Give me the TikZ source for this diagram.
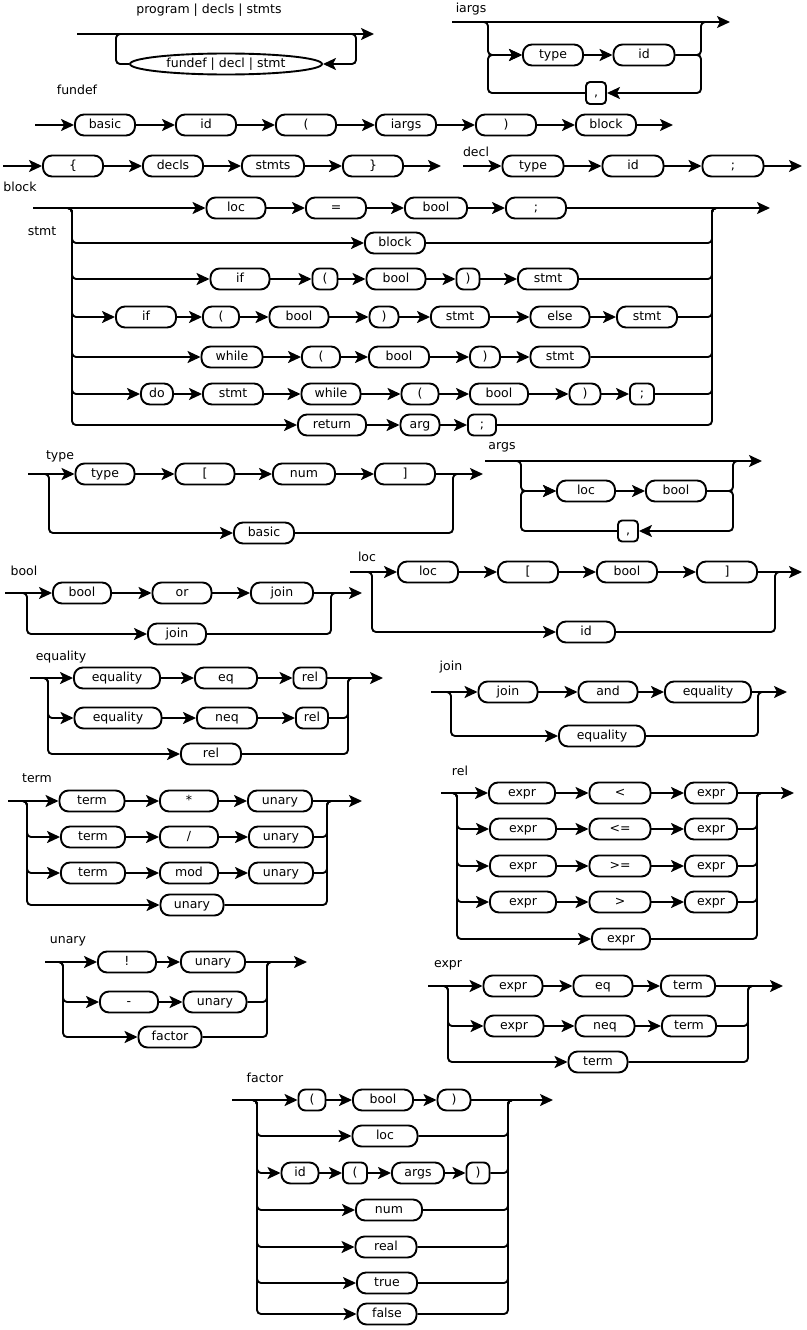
\documentclass[tikz,border=0pt]{standalone}
\usepackage{fontspec}
\setmainfont{DejaVu Sans}
\usetikzlibrary{arrows.meta,shapes.geometric}
\begin{document}
\begin{tikzpicture}[x=1pt,y=-1pt,line width=1.9pt,
  >={Stealth[length=13pt,width=12pt,inset=3pt]},
  every node/.style={font=\fontsize{12.5}{14}\selectfont},
  tm/.style={draw, rounded corners=9pt, minimum width=60pt, minimum height=21pt, inner sep=0pt, text height=9.5pt, text depth=2.5pt},
  rr/.style={rounded corners=4pt}]
\useasboundingbox (0,0) rectangle (806,1330);
% program
\node (pgT) at (209,10){program | decls | stmts};
\node[draw, ellipse, minimum width=192pt, minimum height=21pt, inner sep=0pt, text height=9.5pt, text depth=2.5pt] (pgE) at (226,64){fundef | decl | stmt};
\coordinate (pgA) at (77,34);
\coordinate (pgL) at (116,34);
\coordinate (pgL0) at (124,34);
\coordinate (pgR0) at (348,34);
\coordinate (pgR) at (356,34);
\coordinate (pgZ) at (374,34);
\draw[->](pgA) -- (pgZ);
\draw[rr,->](pgR0) -| (pgE -| pgR) -- (pgE);
\draw[rr](pgE) -- (pgE -| pgL) |- (pgL0);
% iargs
\node (iaT) at (471,9){iargs};
\node[tm] (iaTy) at (553,55){type};
\node[tm, minimum width=61pt] (iaId) at (644,55){id};
\node[tm, rounded corners=4pt, minimum width=20pt, minimum height=22pt] (iaCm) at (596,93){,};
\coordinate (iaA) at (452,22);
\coordinate (iaL) at (488,22);
\coordinate (iaR) at (701,22);
\coordinate (iaR0) at (709,22);
\coordinate (iaZ) at (730,22);
\draw[->](iaA) -- (iaZ);
\draw[rr,->](iaA) -| (iaTy -| iaL) -- (iaTy);
\draw[->](iaTy) -- (iaId);
\draw[rr](iaId) -| (iaR) -- (iaR0);
\draw[rr,->](iaId) -| (iaCm -| iaR) -- (iaCm);
\draw[rr,->](iaCm) -| (iaTy -| iaL) -- (iaTy);
% fundef
\node (fdT) at (77,90){fundef};
\node[tm] (fd1) at (105,125){basic};
\node[tm] (fd2) at (206,125){id};
\node[tm] (fd3) at (306,125){(};
\node[tm] (fd4) at (406,125){iargs};
\node[tm] (fd5) at (506,125){)};
\node[tm] (fd6) at (606,125){block};
\coordinate (fdA) at (35,125);
\coordinate (fdZ) at (673,125);
\draw[->](fdA) -- (fd1);
\draw[->](fd1) -- (fd2);
\draw[->](fd2) -- (fd3);
\draw[->](fd3) -- (fd4);
\draw[->](fd4) -- (fd5);
\draw[->](fd5) -- (fd6);
\draw[->](fd6) -- (fdZ);
% block
\node (bkT) at (20,187){block};
\node[tm] (bk1) at (73,166){\{};
\node[tm] (bk2) at (173,166){decls};
\node[tm, minimum width=62pt] (bk3) at (273,166){stmts};
\node[tm] (bk4) at (373,166){\}};
\coordinate (bkA) at (3,166);
\coordinate (bkZ) at (441,166);
\draw[->](bkA) -- (bk1);
\draw[->](bk1) -- (bk2);
\draw[->](bk2) -- (bk3);
\draw[->](bk3) -- (bk4);
\draw[->](bk4) -- (bkZ);
% decl
\node (dcT) at (476,152){decl};
\node[tm, minimum width=61pt] (dc1) at (533,166){type};
\node[tm, minimum width=61pt] (dc2) at (633,166){id};
\node[tm, minimum width=61pt] (dc3) at (733,166){;};
\coordinate (dcA) at (463,166);
\coordinate (dcZ) at (802,166);
\draw[->](dcA) -- (dc1);
\draw[->](dc1) -- (dc2);
\draw[->](dc2) -- (dc3);
\draw[->](dc3) -- (dcZ);
% stmt
\node (stT) at (42,231){stmt};
\coordinate (stA) at (33,208);
\coordinate (stL) at (72,208);
\coordinate (stR) at (712,208);
\coordinate (stR0) at (720,208);
\coordinate (stZ) at (770,208);
\node[tm, minimum width=59pt] (st1) at (236,208){loc};
\node[tm] (st2) at (336,208){=};
\node[tm, minimum width=62pt] (st3) at (436,208){bool};
\node[tm] (st4) at (536,208){;};
\node[tm] (st5) at (395,243){block};
\node[tm, minimum width=59pt] (st6) at (240,279){if};
\node[tm, rounded corners=7pt, minimum width=25pt] (st7) at (325,279){(};
\node[tm, minimum width=59pt] (st8) at (396,279){bool};
\node[tm, rounded corners=7pt, minimum width=23pt] (st9) at (468,279){)};
\node[tm] (st10) at (548,279){stmt};
\node[tm] (st11) at (146,317){if};
\node[tm, minimum width=36pt] (st12) at (221,317){(};
\node[tm, minimum width=59pt] (st13) at (299,317){bool};
\node[tm, minimum width=29pt] (st14) at (384,317){)};
\node[tm, minimum width=58pt] (st15) at (460,317){stmt};
\node[tm, minimum width=59pt] (st16) at (560,317){else};
\node[tm] (st17) at (647,317){stmt};
\node[tm, minimum width=61pt] (st18) at (232,357){while};
\node[tm, minimum width=38pt] (st19) at (321,357){(};
\node[tm] (st20) at (399,357){bool};
\node[tm, minimum width=30pt] (st21) at (485,357){)};
\node[tm, minimum width=59pt] (st22) at (560,357){stmt};
\node[tm, minimum width=32pt] (st23) at (157,394){do};
\node[tm] (st24) at (233,394){stmt};
\node[tm, minimum width=59pt] (st25) at (331,394){while};
\node[tm, minimum width=37pt] (st26) at (420,394){(};
\node[tm, minimum width=58pt] (st27) at (499,394){bool};
\node[tm, minimum width=31pt] (st28) at (585,394){)};
\node[tm, rounded corners=6pt, minimum width=24pt] (st29) at (642,394){;};
\node[tm, minimum width=68pt] (st30) at (332,425){return};
\node[tm, minimum width=39pt] (st31) at (420,425){arg};
\node[tm, rounded corners=6pt, minimum width=28pt] (st32) at (482,425){;};
\draw[->](stA) -- (st1);
\draw[->](st1) -- (st2);
\draw[->](st2) -- (st3);
\draw[->](st3) -- (st4);
\draw[->](st4) -- (stZ);
\draw[rr,->](stA) -| (st5 -| stL) -- (st5);
\draw[rr](st5) -| (stR) -- (stR0);
\draw[rr,->](stA) -| (st6 -| stL) -- (st6);
\draw[->](st6) -- (st7);
\draw[->](st7) -- (st8);
\draw[->](st8) -- (st9);
\draw[->](st9) -- (st10);
\draw[rr](st10) -| (stR) -- (stR0);
\draw[rr,->](stA) -| (st11 -| stL) -- (st11);
\draw[->](st11) -- (st12);
\draw[->](st12) -- (st13);
\draw[->](st13) -- (st14);
\draw[->](st14) -- (st15);
\draw[->](st15) -- (st16);
\draw[->](st16) -- (st17);
\draw[rr](st17) -| (stR) -- (stR0);
\draw[rr,->](stA) -| (st18 -| stL) -- (st18);
\draw[->](st18) -- (st19);
\draw[->](st19) -- (st20);
\draw[->](st20) -- (st21);
\draw[->](st21) -- (st22);
\draw[rr](st22) -| (stR) -- (stR0);
\draw[rr,->](stA) -| (st23 -| stL) -- (st23);
\draw[->](st23) -- (st24);
\draw[->](st24) -- (st25);
\draw[->](st25) -- (st26);
\draw[->](st26) -- (st27);
\draw[->](st27) -- (st28);
\draw[->](st28) -- (st29);
\draw[rr](st29) -| (stR) -- (stR0);
\draw[rr,->](stA) -| (st30 -| stL) -- (st30);
\draw[->](st30) -- (st31);
\draw[->](st31) -- (st32);
\draw[rr](st32) -| (stR) -- (stR0);
% type
\node (tyT) at (60,456){type};
\coordinate (tyA) at (28,474);
\coordinate (tyL) at (49,474);
\coordinate (tyR) at (453,474);
\coordinate (tyR0) at (461,474);
\coordinate (tyZ) at (483,474);
\node[tm, minimum width=59pt] (ty1) at (105,474){type};
\node[tm, minimum width=59pt] (ty2) at (205,474){[};
\node[tm, minimum width=62pt] (ty3) at (304,474){num};
\node[tm] (ty4) at (405,474){]};
\node[tm] (ty5) at (264,533){basic};
\draw[->](tyA) -- (ty1);
\draw[->](ty1) -- (ty2);
\draw[->](ty2) -- (ty3);
\draw[->](ty3) -- (ty4);
\draw[->](ty4) -- (tyZ);
\draw[rr,->](tyA) -| (ty5 -| tyL) -- (ty5);
\draw[rr](ty5) -| (tyR) -- (tyR0);
% args
\node (agT) at (502,447){args};
\coordinate (agA) at (485,461);
\coordinate (agL) at (521,461);
\coordinate (agR) at (733,461);
\coordinate (agR0) at (741,461);
\coordinate (agZ) at (762,461);
\node[tm, minimum width=58pt] (ag1) at (586,491){loc};
\node[tm] (ag2) at (676,491){bool};
\node[tm, rounded corners=4pt, minimum width=20pt] (ag3) at (628,531){,};
\draw[->](agA) -- (agZ);
\draw[rr,->](agA) -| (ag1 -| agL) -- (ag1);
\draw[->](ag1) -- (ag2);
\draw[rr](ag2) -| (agR) -- (agR0);
\draw[rr,->](ag2) -| (ag3 -| agR) -- (ag3);
\draw[rr,->](ag3) -| (ag1 -| agL) -- (ag1);
% bool
\node (boT) at (24,571){bool};
\coordinate (boA) at (5,593);
\coordinate (boL) at (27,593);
\coordinate (boR) at (331,593);
\coordinate (boR0) at (339,593);
\coordinate (boZ) at (362,593);
\node[tm, minimum width=58pt] (bo1) at (82,593){bool};
\node[tm, minimum width=59pt] (bo2) at (182,593){or};
\node[tm, minimum width=62pt] (bo3) at (282,593){join};
\node[tm, minimum width=58pt] (bo4) at (177,634){join};
\draw[->](boA) -- (bo1);
\draw[->](bo1) -- (bo2);
\draw[->](bo2) -- (bo3);
\draw[->](bo3) -- (boZ);
\draw[rr,->](boA) -| (bo4 -| boL) -- (bo4);
\draw[rr](bo4) -| (boR) -- (boR0);
% loc
\node (lcT) at (367,557){loc};
\coordinate (lcA) at (350,572);
\coordinate (lcL) at (372,572);
\coordinate (lcR) at (775,572);
\coordinate (lcR0) at (783,572);
\coordinate (lcZ) at (802,572);
\node[tm] (lc1) at (428,572){loc};
\node[tm] (lc2) at (528,572){[};
\node[tm] (lc3) at (627,572){bool};
\node[tm] (lc4) at (727,572){]};
\node[tm, minimum width=58pt] (lc5) at (586,632){id};
\draw[->](lcA) -- (lc1);
\draw[->](lc1) -- (lc2);
\draw[->](lc2) -- (lc3);
\draw[->](lc3) -- (lc4);
\draw[->](lc4) -- (lcZ);
\draw[rr,->](lcA) -| (lc5 -| lcL) -- (lc5);
\draw[rr](lc5) -| (lcR) -- (lcR0);
% equality
\node (eqT) at (61,657){equality};
\coordinate (eqA) at (30,678);
\coordinate (eqL) at (48,678);
\coordinate (eqR) at (348,678);
\coordinate (eqR0) at (356,678);
\coordinate (eqZ) at (383,678);
\node[tm, minimum width=86pt] (eq1) at (117,678){equality};
\node[tm, minimum width=62pt] (eq2) at (226,678){eq};
\node[tm, rounded corners=7pt, minimum width=33pt] (eq3) at (310,678){rel};
\node[tm, minimum width=87pt] (eq4) at (118,718){equality};
\node[tm] (eq5) at (227,718){neq};
\node[tm, rounded corners=7pt, minimum width=32pt] (eq6) at (312,718){rel};
\node[tm] (eq7) at (211,754){rel};
\draw[->](eqA) -- (eq1);
\draw[->](eq1) -- (eq2);
\draw[->](eq2) -- (eq3);
\draw[->](eq3) -- (eqZ);
\draw[rr,->](eqA) -| (eq4 -| eqL) -- (eq4);
\draw[->](eq4) -- (eq5);
\draw[->](eq5) -- (eq6);
\draw[rr](eq6) -| (eqR) -- (eqR0);
\draw[rr,->](eqA) -| (eq7 -| eqL) -- (eq7);
\draw[rr](eq7) -| (eqR) -- (eqR0);
% join
\node (jnT) at (451,667){join};
\coordinate (jnA) at (431,692);
\coordinate (jnL) at (451,692);
\coordinate (jnR) at (758,692);
\coordinate (jnR0) at (766,692);
\coordinate (jnZ) at (787,692);
\node[tm, minimum width=59pt] (jn1) at (508,692){join};
\node[tm, minimum width=59pt] (jn2) at (608,692){and};
\node[tm, minimum width=86pt] (jn3) at (708,692){equality};
\node[tm, minimum width=86pt] (jn4) at (602,736){equality};
\draw[->](jnA) -- (jn1);
\draw[->](jn1) -- (jn2);
\draw[->](jn2) -- (jn3);
\draw[->](jn3) -- (jnZ);
\draw[rr,->](jnA) -| (jn4 -| jnL) -- (jn4);
\draw[rr](jn4) -| (jnR) -- (jnR0);
% term
\node (trT) at (37,778){term};
\coordinate (trA) at (8,801);
\coordinate (trL) at (27,801);
\coordinate (trR) at (327,801);
\coordinate (trR0) at (335,801);
\coordinate (trZ) at (362,801);
\node[tm, minimum width=65pt] (tr1) at (92,801){term};
\node[tm, minimum width=58pt] (tr2) at (189,801){*};
\node[tm, minimum width=64pt] (tr3) at (280,801){unary};
\node[tm, minimum width=64pt] (tr4) at (93,837){term};
\node[tm, minimum width=58pt] (tr5) at (189,837){/};
\node[tm, minimum width=64pt] (tr6) at (281,837){unary};
\node[tm, minimum width=64pt] (tr7) at (93,873){term};
\node[tm, minimum width=58pt] (tr8) at (189,873){mod};
\node[tm, minimum width=64pt] (tr9) at (281,873){unary};
\node[tm, minimum width=63pt] (tr10) at (192,905){unary};
\draw[->](trA) -- (tr1);
\draw[->](tr1) -- (tr2);
\draw[->](tr2) -- (tr3);
\draw[->](tr3) -- (trZ);
\draw[rr,->](trA) -| (tr4 -| trL) -- (tr4);
\draw[->](tr4) -- (tr5);
\draw[->](tr5) -- (tr6);
\draw[rr](tr6) -| (trR) -- (trR0);
\draw[rr,->](trA) -| (tr7 -| trL) -- (tr7);
\draw[->](tr7) -- (tr8);
\draw[->](tr8) -- (tr9);
\draw[rr](tr9) -| (trR) -- (trR0);
\draw[rr,->](trA) -| (tr10 -| trL) -- (tr10);
\draw[rr](tr10) -| (trR) -- (trR0);
% rel
\node (rlT) at (460,771){rel};
\coordinate (rlA) at (441,793);
\coordinate (rlL) at (457,793);
\coordinate (rlR) at (757,793);
\coordinate (rlR0) at (765,793);
\coordinate (rlZ) at (794,793);
\node[tm, minimum width=66pt] (rl1) at (522,793){expr};
\node[tm, minimum width=61pt] (rl2) at (620,793){<};
\node[tm, minimum width=52pt] (rl3) at (711,793){expr};
\node[tm, minimum width=66pt] (rl4) at (523,829){expr};
\node[tm, minimum width=61pt] (rl5) at (620,829){<=};
\node[tm, minimum width=52pt] (rl6) at (711,829){expr};
\node[tm, minimum width=66pt] (rl7) at (523,866){expr};
\node[tm, minimum width=61pt] (rl8) at (620,866){>=};
\node[tm, minimum width=52pt] (rl9) at (711,866){expr};
\node[tm, minimum width=66pt] (rl10) at (523,902){expr};
\node[tm, minimum width=61pt] (rl11) at (620,902){>};
\node[tm, minimum width=52pt] (rl12) at (711,902){expr};
\node[tm, minimum width=58pt] (rl13) at (621,939){expr};
\draw[->](rlA) -- (rl1);
\draw[->](rl1) -- (rl2);
\draw[->](rl2) -- (rl3);
\draw[->](rl3) -- (rlZ);
\draw[rr,->](rlA) -| (rl4 -| rlL) -- (rl4);
\draw[->](rl4) -- (rl5);
\draw[->](rl5) -- (rl6);
\draw[rr](rl6) -| (rlR) -- (rlR0);
\draw[rr,->](rlA) -| (rl7 -| rlL) -- (rl7);
\draw[->](rl7) -- (rl8);
\draw[->](rl8) -- (rl9);
\draw[rr](rl9) -| (rlR) -- (rlR0);
\draw[rr,->](rlA) -| (rl10 -| rlL) -- (rl10);
\draw[->](rl10) -- (rl11);
\draw[->](rl11) -- (rl12);
\draw[rr](rl12) -| (rlR) -- (rlR0);
\draw[rr,->](rlA) -| (rl13 -| rlL) -- (rl13);
\draw[rr](rl13) -| (rlR) -- (rlR0);
% unary
\node (unT) at (68,941){unary};
\coordinate (unA) at (45,962);
\coordinate (unL) at (63,962);
\coordinate (unR) at (267,962);
\coordinate (unR0) at (275,962);
\coordinate (unZ) at (307,962);
\node[tm, minimum width=58pt] (un1) at (127,962){!};
\node[tm, minimum width=64pt] (un2) at (213,962){unary};
\node[tm, minimum width=58pt] (un3) at (129,1002){-};
\node[tm, minimum width=63pt] (un4) at (215,1002){unary};
\node[tm, minimum width=63pt] (un5) at (170,1037){factor};
\draw[->](unA) -- (un1);
\draw[->](un1) -- (un2);
\draw[->](un2) -- (unZ);
\draw[rr,->](unA) -| (un3 -| unL) -- (un3);
\draw[->](un3) -- (un4);
\draw[rr](un4) -| (unR) -- (unR0);
\draw[rr,->](unA) -| (un5 -| unL) -- (un5);
\draw[rr](un5) -| (unR) -- (unR0);
% expr
\node (exT) at (448,965){expr};
\coordinate (exA) at (428,986);
\coordinate (exL) at (448,986);
\coordinate (exR) at (748,986);
\coordinate (exR0) at (756,986);
\coordinate (exZ) at (783,986);
\node[tm, minimum width=59pt] (ex1) at (513,986){expr};
\node[tm, minimum width=59pt] (ex2) at (603,986){eq};
\node[tm, minimum width=54pt] (ex3) at (688,986){term};
\node[tm, minimum width=59pt] (ex4) at (514,1026){expr};
\node[tm, minimum width=59pt] (ex5) at (605,1026){neq};
\node[tm, minimum width=54pt] (ex6) at (689,1026){term};
\node[tm, minimum width=59pt] (ex7) at (598,1062){term};
\draw[->](exA) -- (ex1);
\draw[->](ex1) -- (ex2);
\draw[->](ex2) -- (ex3);
\draw[->](ex3) -- (exZ);
\draw[rr,->](exA) -| (ex4 -| exL) -- (ex4);
\draw[->](ex4) -- (ex5);
\draw[->](ex5) -- (ex6);
\draw[rr](ex6) -| (exR) -- (exR0);
\draw[rr,->](exA) -| (ex7 -| exL) -- (ex7);
\draw[rr](ex7) -| (exR) -- (exR0);
% factor
\node (fcT) at (265,1078){factor};
\coordinate (fcA) at (232,1100);
\coordinate (fcL) at (257,1100);
\coordinate (fcR) at (508,1100);
\coordinate (fcR0) at (516,1100);
\coordinate (fcZ) at (553,1100);
\node[tm, rounded corners=7pt, minimum width=27pt] (fc1) at (312,1100){(};
\node[tm] (fc2) at (383,1100){bool};
\node[tm, minimum width=33pt] (fc3) at (454,1100){)};
\node[tm, minimum width=65pt] (fc4) at (385,1136){loc};
\node[tm, minimum width=37pt] (fc5) at (300,1173){id};
\node[tm, rounded corners=6pt, minimum width=24pt] (fc6) at (355,1173){(};
\node[tm, minimum width=52pt] (fc7) at (418,1173){args};
\node[tm, rounded corners=6pt, minimum width=23pt] (fc8) at (478,1173){)};
\node[tm, minimum width=66pt] (fc9) at (389,1210){num};
\node[tm, minimum width=61pt] (fc10) at (386,1247){real};
\node[tm] (fc11) at (387,1283){true};
\node[tm, minimum width=59pt] (fc12) at (387,1314){false};
\draw[->](fcA) -- (fc1);
\draw[->](fc1) -- (fc2);
\draw[->](fc2) -- (fc3);
\draw[->](fc3) -- (fcZ);
\draw[rr,->](fcA) -| (fc4 -| fcL) -- (fc4);
\draw[rr](fc4) -| (fcR) -- (fcR0);
\draw[rr,->](fcA) -| (fc5 -| fcL) -- (fc5);
\draw[->](fc5) -- (fc6);
\draw[->](fc6) -- (fc7);
\draw[->](fc7) -- (fc8);
\draw[rr](fc8) -| (fcR) -- (fcR0);
\draw[rr,->](fcA) -| (fc9 -| fcL) -- (fc9);
\draw[rr](fc9) -| (fcR) -- (fcR0);
\draw[rr,->](fcA) -| (fc10 -| fcL) -- (fc10);
\draw[rr](fc10) -| (fcR) -- (fcR0);
\draw[rr,->](fcA) -| (fc11 -| fcL) -- (fc11);
\draw[rr](fc11) -| (fcR) -- (fcR0);
\draw[rr,->](fcA) -| (fc12 -| fcL) -- (fc12);
\draw[rr](fc12) -| (fcR) -- (fcR0);
\end{tikzpicture}
\end{document}
